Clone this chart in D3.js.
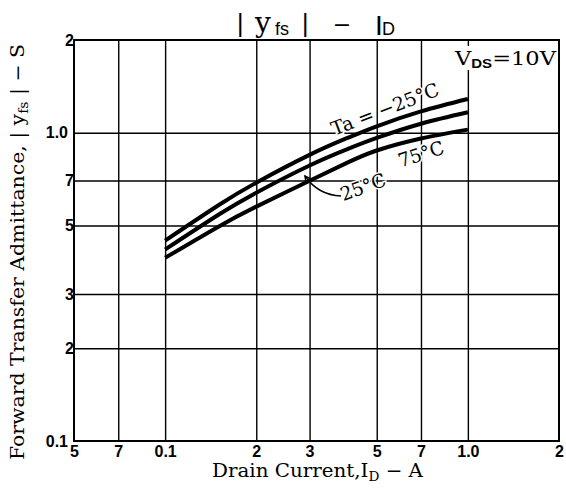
<!DOCTYPE html>
<html><head><meta charset="utf-8">
<script src="https://cdn.jsdelivr.net/npm/d3@7"></script>
<style>
body{margin:0;background:#fff}
svg{display:block}
</style></head><body>
<svg id="chart" width="566" height="490"></svg>
<script>
// ---- data ----
const currentA      = [0.1,   0.15,  0.2,   0.3,   0.4,   0.5,   0.7,   1.0];
const yfsTaMinus25  = [0.447, 0.582, 0.689, 0.848, 0.962, 1.050, 1.173, 1.287];
const yfsTa25       = [0.418, 0.542, 0.639, 0.783, 0.885, 0.962, 1.070, 1.166];
const yfsTa75       = [0.393, 0.496, 0.576, 0.699, 0.800, 0.876, 0.958, 1.024];
const seriesNames   = ["Ta = −25°C", "25°C", "75°C"];

const xTickValues = [0.05, 0.07, 0.1, 0.2, 0.3, 0.5, 0.7, 1.0, 2];
const xTickLabels = ["5", "7", "0.1", "2", "3", "5", "7", "1.0", "2"];
const yTickValues = [0.1, 0.2, 0.3, 0.5, 0.7, 1.0, 2];
const yTickLabels = ["0.1", "2", "3", "5", "7", "1.0", "2"];
const xGridValues = [0.07, 0.1, 0.2, 0.3, 0.5, 0.7, 1.0];
const yGridValues = [0.2, 0.3, 0.5, 0.7, 1.0];

// ---- layout ----
const L = 74, R = 559, T = 40, B = 441;
const svg = d3.select("#chart");
const x = d3.scaleLog().domain([0.05, 2]).range([L, R]);
const y = d3.scaleLog().domain([0.1, 2]).range([B, T]);
const SERIF = "'DejaVu Serif','Liberation Serif',serif";
const SANS = "'Liberation Sans',Arial,sans-serif";

// grid lines
const gx = svg.append("g").attr("transform", `translate(0,${B})`)
  .call(d3.axisBottom(x).tickValues(xGridValues).tickSize(-(B - T)).tickFormat(""));
gx.select(".domain").remove();
gx.selectAll("line").attr("stroke", "#000").attr("stroke-width", 1.4);

const gy = svg.append("g").attr("transform", `translate(${L},0)`)
  .call(d3.axisLeft(y).tickValues(yGridValues).tickSize(-(R - L)).tickFormat(""));
gy.select(".domain").remove();
gy.selectAll("line").attr("stroke", "#000").attr("stroke-width", 1.4);

// frame
svg.append("rect").attr("x", L).attr("y", T).attr("width", R - L).attr("height", B - T)
  .attr("fill", "none").attr("stroke", "#000").attr("stroke-width", 2);

// tick labels
const ax = svg.append("g").attr("transform", `translate(0,${B})`)
  .call(d3.axisBottom(x).tickValues(xTickValues).tickFormat((d, i) => xTickLabels[i]).tickSize(0).tickPadding(5));
ax.select(".domain").remove();
ax.selectAll("text").attr("font-family", SANS).attr("font-size", 16).attr("font-weight", "bold").attr("fill", "#000");

const ay = svg.append("g").attr("transform", `translate(${L},0)`)
  .call(d3.axisLeft(y).tickValues(yTickValues).tickFormat((d, i) => yTickLabels[i]).tickSize(0).tickPadding(1));
ay.select(".domain").remove();
ay.selectAll("text").attr("font-family", SANS).attr("font-size", 16).attr("font-weight", "bold").attr("fill", "#000")
  .attr("x", (d, i) => yTickLabels[i].length > 1 ? -6 : 0);

// curves
const line = d3.line().x(d => x(d[0])).y(d => y(d[1])).curve(d3.curveNatural);
[yfsTaMinus25, yfsTa25, yfsTa75].forEach(vals => {
  svg.append("path").datum(currentA.map((c, i) => [c, vals[i]]))
    .attr("d", line).attr("fill", "none").attr("stroke", "#000").attr("stroke-width", 4)
    .attr("stroke-linecap", "butt");
});

// curve labels
function label(txt, cx, cy, ang, size, len) {
  svg.append("text").attr("transform", `translate(${cx},${cy}) rotate(${ang})`)
    .attr("text-anchor", "middle").attr("dy", "0.35em")
    .attr("font-family", SERIF).attr("font-size", size)
    .attr("textLength", len).attr("lengthAdjust", "spacingAndGlyphs")
    .attr("stroke", "#fff").attr("stroke-width", 3).attr("paint-order", "stroke")
    .attr("fill", "#000").text(txt);
}
label(seriesNames[0], 385, 109, -21, 19, 114);
label(seriesNames[2], 421, 154, -18, 19, 47);
label(seriesNames[1], 363, 187, -20, 19, 47);

// arrow for 25°C
svg.append("path").attr("d", "M341,196 Q318,195 305,176")
  .attr("fill", "none").attr("stroke", "#000").attr("stroke-width", 1.5);
svg.append("path").attr("d", "M311,179 L305,176 L306,183")
  .attr("fill", "none").attr("stroke", "#000").attr("stroke-width", 1.5);

// V_DS label
svg.append("rect").attr("x", 452).attr("y", 46).attr("width", 105).attr("height", 24).attr("fill", "#fff");
const vds = svg.append("text").attr("x", 455).attr("y", 65).attr("font-family", SERIF).attr("font-size", 18)
  .attr("textLength", 101).attr("lengthAdjust", "spacingAndGlyphs").attr("fill", "#000");
vds.append("tspan").text("V");
vds.append("tspan").attr("font-family", SANS).attr("font-size", 12).attr("font-weight", "bold").attr("dy", 3).text("DS");
vds.append("tspan").attr("dy", -3).text("=10V");

// title
const title = svg.append("text").attr("y", 32).attr("fill", "#000");
title.append("tspan").attr("x", 237).attr("font-family", SANS).attr("font-size", 25).text("|");
title.append("tspan").attr("x", 255).attr("font-family", SERIF).attr("font-size", 28).text("y");
title.append("tspan").attr("x", 275).attr("font-family", SANS).attr("font-size", 18).attr("dy", 3).text("fs");
title.append("tspan").attr("x", 302).attr("font-family", SANS).attr("font-size", 25).attr("dy", -3).text("|");
title.append("tspan").attr("x", 335).attr("font-family", SANS).attr("font-size", 25).text("–");
title.append("tspan").attr("x", 375).attr("font-family", SANS).attr("font-size", 28).attr("dy", 3).text("I");
title.append("tspan").attr("x", 382).attr("font-family", SANS).attr("font-size", 18).text("D");

// x axis title
const xt = svg.append("text").attr("x", 212).attr("y", 477).attr("font-family", SERIF).attr("font-size", 19)
  .attr("textLength", 211).attr("lengthAdjust", "spacingAndGlyphs").attr("fill", "#000");
xt.append("tspan").text("Drain Current,I");
xt.append("tspan").attr("font-size", 13).attr("dy", 4).text("D");
xt.append("tspan").attr("dy", -4).text(" − A");

// y axis title
const yt = svg.append("text").attr("transform", "translate(24,0) rotate(-90)")
  .attr("x", -460).attr("font-family", SERIF).attr("font-size", 19)
  .attr("textLength", 416).attr("lengthAdjust", "spacingAndGlyphs").attr("fill", "#000");
yt.append("tspan").text("Forward Transfer Admittance, | y");
yt.append("tspan").attr("font-size", 13).attr("dy", 4).text("fs");
yt.append("tspan").attr("dy", -4).text(" |  − S");
</script>
</body></html>
